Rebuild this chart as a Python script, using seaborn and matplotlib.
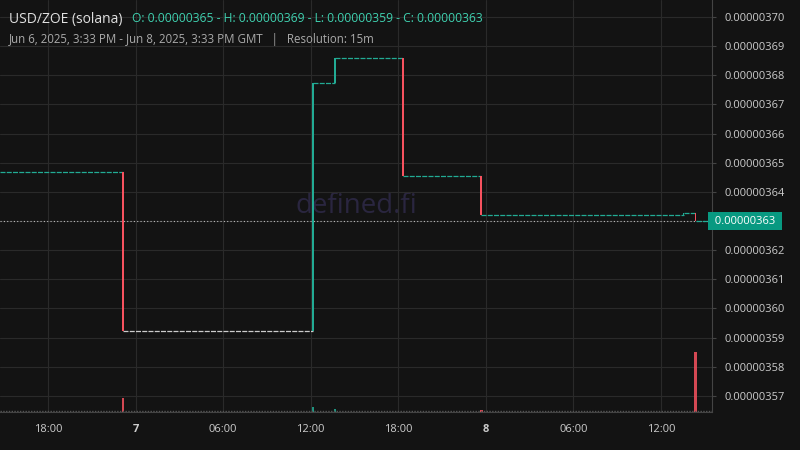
import matplotlib
matplotlib.use("Agg")
import matplotlib.pyplot as plt
import seaborn as sns

# price in units of 1e-8, time in hours from Jun 6 00:00
step_times = [14.7, 23.15, 36.18, 37.69, 42.35, 47.70, 61.55, 62.37, 63.5]
step_levels = [364.68, 359.23, 367.74, 368.59, 364.55, 363.21, 363.28, 363.0]
vol_times = [23.15, 36.18, 37.69, 47.70, 62.37]
vol_values = [14, 5, 3, 2, 60]
xtick_pos = [18, 24, 30, 36, 42, 48, 54, 60]
xtick_labels = ["18:00", "7", "06:00", "12:00", "18:00", "8", "06:00", "12:00"]
ytick_vals = list(range(357, 371))
last_price = 363.0

BG = "#131313"
UP, DOWN = "#22ab94", "#f7525f"
sns.set_style("dark", {"axes.facecolor": BG, "figure.facecolor": BG})
plt.rcParams["font.family"] = ["Open Sans", "DejaVu Sans"]

fig = plt.figure(figsize=(8, 4.5), dpi=100)
ax = fig.add_axes([0, 38 / 450, 712 / 800, 412 / 450])
ax.set_facecolor(BG)
ax.set_xlim(14.71, 63.5)
ax.set_ylim(356.45, 370.58)

# volume on a hidden twin axis
vax = ax.twinx()
vax.set_ylim(0, 412)
vax.bar(vol_times, vol_values, width=0.15, linewidth=0,
        color=[DOWN, UP, UP, DOWN, DOWN], alpha=0.85, zorder=1)
vax.axhline(1, color="#555555", lw=1, ls=(0, (1, 1)))
vax.set_yticks([])
for s in vax.spines.values():
    s.set_visible(False)

# flat stretches and the jump candles
prev = None
for i, lvl in enumerate(step_levels):
    t0, t1 = step_times[i], step_times[i + 1]
    col = "#cccccc" if lvl < 360 else UP
    ax.hlines(lvl, t0, t1, color=col, lw=0.9, ls=(0, (4, 1)), zorder=3)
    if prev is not None:
        c = UP if lvl > prev else DOWN
        ax.bar(t0, lvl - prev, bottom=prev, width=0.13, color=c, linewidth=0, zorder=4)
    prev = lvl

ax.axhline(last_price, color="#bbbbbb", lw=0.8, ls=(0, (1, 2)), zorder=2)

ax.set_xticks(xtick_pos)
ax.set_xticklabels(xtick_labels, color="#cccccc", fontsize=8)
for lab, txt in zip(ax.get_xticklabels(), xtick_labels):
    if txt in ("7", "8"):
        lab.set_fontweight("bold")
ax.yaxis.tick_right()
ax.set_yticks(ytick_vals)
ax.set_yticklabels(["" if v == last_price else f"0.00000{v}" for v in ytick_vals],
                   color="#cccccc", fontsize=8)
ax.tick_params(axis="both", length=3, color="#444444", pad=6)
ax.grid(True, color="#2a2a2a", lw=0.8)
for s in ax.spines.values():
    s.set_visible(False)
ax.spines["right"].set_visible(True)
ax.spines["right"].set_color("#444444")
ax.spines["bottom"].set_visible(True)
ax.spines["bottom"].set_color("#444444")

ax.text(1.0, last_price, " 0.00000363 ", transform=ax.get_yaxis_transform(),
        va="center", ha="left", fontsize=8, color="white",
        bbox=dict(boxstyle="square,pad=0.35", fc="#089981", ec="none"), zorder=10)

ax.text(0.5, 0.5, "defined.fi", transform=ax.transAxes, ha="center", va="center",
        fontsize=20, color="#2a2640", zorder=0)

fig.text(9 / 800, 1 - 19 / 450, "USD/ZOE (solana)", color="#e0e0e0", fontsize=10, va="center")
fig.text(132 / 800, 1 - 19 / 450,
         "O: 0.00000365 - H: 0.00000369 - L: 0.00000359 - C: 0.00000363",
         color="#3fd1b0", fontsize=8.7, va="center")
fig.text(9 / 800, 1 - 40 / 450,
         "Jun 6, 2025, 3:33 PM - Jun 8, 2025, 3:33 PM GMT   |   Resolution: 15m",
         color="#aaaaaa", fontsize=8.3, va="center")

fig.savefig("out.png", dpi=100, facecolor=BG)
